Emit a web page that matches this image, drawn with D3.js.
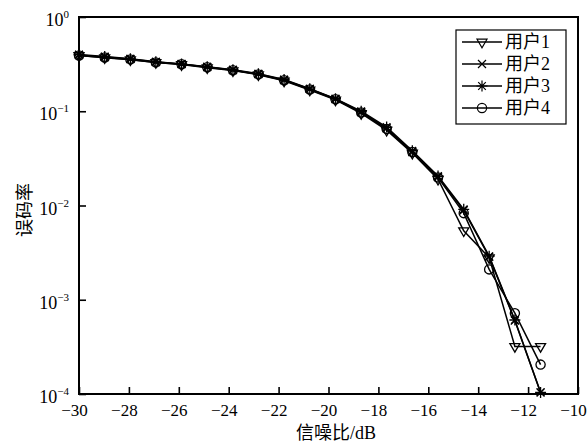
<!DOCTYPE html>
<html>
<head>
<meta charset="utf-8">
<script src="https://cdn.jsdelivr.net/npm/d3@7"></script>
<style>
  body { margin: 0; background: #fff; }
  svg text { font-family: "Liberation Serif", "Noto Sans CJK SC", serif; fill: #000; }
</style>
</head>
<body>
<svg id="chart" width="587" height="445"></svg>
<script>
// SNR values (dB)
var snr = [-30, -28.97, -27.94, -26.92, -25.89, -24.86, -23.83, -22.81, -21.78, -20.75,
           -19.72, -18.69, -17.67, -16.64, -15.61, -14.58, -13.56, -12.53, -11.5];

// bit error rate per user
var user1 = [0.39, 0.37, 0.352, 0.33, 0.313, 0.29, 0.27, 0.244, 0.21, 0.168,
             0.132, 0.095, 0.063, 0.036, 0.019, 5.4e-3, 2.8e-3, 3.2e-4, 3.2e-4];
var user2 = [0.395, 0.376, 0.358, 0.333, 0.317, 0.295, 0.274, 0.248, 0.215, 0.172,
             0.135, 0.098, 0.066, 0.037, 0.020, 8.9e-3, 2.85e-3, 6.0e-4, 1.04e-4];
var user3 = [0.40, 0.38, 0.36, 0.335, 0.318, 0.297, 0.276, 0.25, 0.217, 0.173,
             0.136, 0.1, 0.068, 0.038, 0.0205, 9.1e-3, 2.9e-3, 6.1e-4, 1.04e-4];
var user4 = [0.39, 0.372, 0.355, 0.33, 0.315, 0.293, 0.272, 0.246, 0.213, 0.17,
             0.134, 0.097, 0.065, 0.037, 0.0198, 8.3e-3, 2.1e-3, 7.2e-4, 2.05e-4];

var names = ["用户1", "用户2", "用户3", "用户4"];
var markers = ["triangle", "cross", "star", "circle"];
var xTicks = [-30, -28, -26, -24, -22, -20, -18, -16, -14, -12, -10];
var yExps = [0, -1, -2, -3, -4];

var svg = d3.select("#chart"),
    MARGINS = {top: 17, right: 9, bottom: 51, left: 79},
    WIDTH = 587, HEIGHT = 445;

var xScale = d3.scaleLinear().domain([-30, -10]).range([MARGINS.left, WIDTH - MARGINS.right]),
    yScale = d3.scaleLog().domain([1e-4, 1]).range([HEIGHT - MARGINS.bottom, MARGINS.top]);

// marker shapes as path strings
function markerPath(type) {
  switch(type) {
    case "triangle":
      return "M-5,-2.8L5,-2.8L0,5.8Z";
    case "cross":
      return "M-4,-4L4,4M-4,4L4,-4";
    case "star":
      return "M-5.5,0L5.5,0M0,-5.5L0,5.5M-3.8,-3.8L3.8,3.8M-3.8,3.8L3.8,-3.8";
    case "circle":
      return "M4.6,0A4.6,4.6 0 1,1 -4.6,0A4.6,4.6 0 1,1 4.6,0Z";
  }
}

var lineGen = d3.line()
  .x(function(d) { return xScale(d.x); })
  .y(function(d) { return yScale(d.y); });

var datasets = [user1, user2, user3, user4].map(function(arr) {
  return arr.map(function(v, i) { return {x: snr[i], y: v}; });
});

// lines + markers
datasets.forEach(function(data, k) {
  svg.append("path")
    .attr("d", lineGen(data))
    .attr("fill", "none")
    .attr("stroke", "#000")
    .attr("stroke-width", 1.5);
  svg.selectAll(".m" + k)
    .data(data)
    .enter().append("path")
    .attr("class", "m" + k)
    .attr("transform", function(d) { return "translate(" + xScale(d.x) + "," + yScale(d.y) + ")"; })
    .attr("d", markerPath(markers[k]))
    .attr("fill", "none")
    .attr("stroke", "#000")
    .attr("stroke-width", 1.3);
});

// x axis (ticks inward)
var xAxis = d3.axisBottom(xScale).tickValues(xTicks).tickSize(-7).tickPadding(10)
  .tickFormat(function(d) { return d < 0 ? "\u2212" + Math.abs(d) : d; });
var gx = svg.append("g")
  .attr("transform", "translate(0," + (HEIGHT - MARGINS.bottom) + ")")
  .call(xAxis);
gx.select(".domain").remove();
gx.selectAll(".tick line").attr("stroke-width", 1.6);
gx.selectAll(".tick text")
  .attr("font-size", 17)
  .attr("font-family", "Liberation Serif")
  .attr("x", -5);

// y axis ticks inward, labels as 10^n
var gy = svg.append("g")
  .attr("transform", "translate(" + MARGINS.left + ",0)")
  .call(d3.axisLeft(yScale).tickValues(yExps.map(function(e) { return Math.pow(10, e); })).tickSize(-7).tickFormat(""));
gy.select(".domain").remove();
gy.selectAll(".tick line").attr("stroke-width", 1.6);

yExps.forEach(function(e) {
  var t = svg.append("text")
    .attr("x", MARGINS.left - 10)
    .attr("y", yScale(Math.pow(10, e)) + 9)
    .attr("text-anchor", "end")
    .attr("font-size", 18);
  t.append("tspan").text("10");
  t.append("tspan").attr("font-size", 11).attr("dy", -8)
    .text(e < 0 ? "\u2212" + Math.abs(e) : e);
});

// frame
svg.append("rect")
  .attr("x", MARGINS.left).attr("y", MARGINS.top)
  .attr("width", WIDTH - MARGINS.right - MARGINS.left)
  .attr("height", HEIGHT - MARGINS.bottom - MARGINS.top)
  .attr("fill", "none").attr("stroke", "#000").attr("stroke-width", 2);

// axis titles
svg.append("text")
  .attr("x", 336).attr("y", 439)
  .attr("text-anchor", "middle")
  .attr("font-size", 18)
  .text("信噪比/dB");

svg.append("text")
  .attr("transform", "translate(31,210) rotate(-90)")
  .attr("text-anchor", "middle")
  .attr("font-size", 18)
  .text("误码率");

// legend
var legend = svg.append("g");
legend.append("rect")
  .attr("x", 456).attr("y", 30).attr("width", 110).attr("height", 94)
  .attr("fill", "#fff").attr("stroke", "#000").attr("stroke-width", 1.2);
var rowY = [42, 64, 86, 108];
names.forEach(function(n, k) {
  legend.append("line")
    .attr("x1", 462).attr("x2", 502).attr("y1", rowY[k]).attr("y2", rowY[k])
    .attr("stroke", "#000").attr("stroke-width", 1.4);
  legend.append("path")
    .attr("transform", "translate(482," + rowY[k] + ")")
    .attr("d", markerPath(markers[k]))
    .attr("fill", "none").attr("stroke", "#000").attr("stroke-width", 1.2);
  legend.append("text")
    .attr("x", 505).attr("y", rowY[k] + 6)
    .attr("font-size", 18)
    .text(n);
});
</script>
</body>
</html>
